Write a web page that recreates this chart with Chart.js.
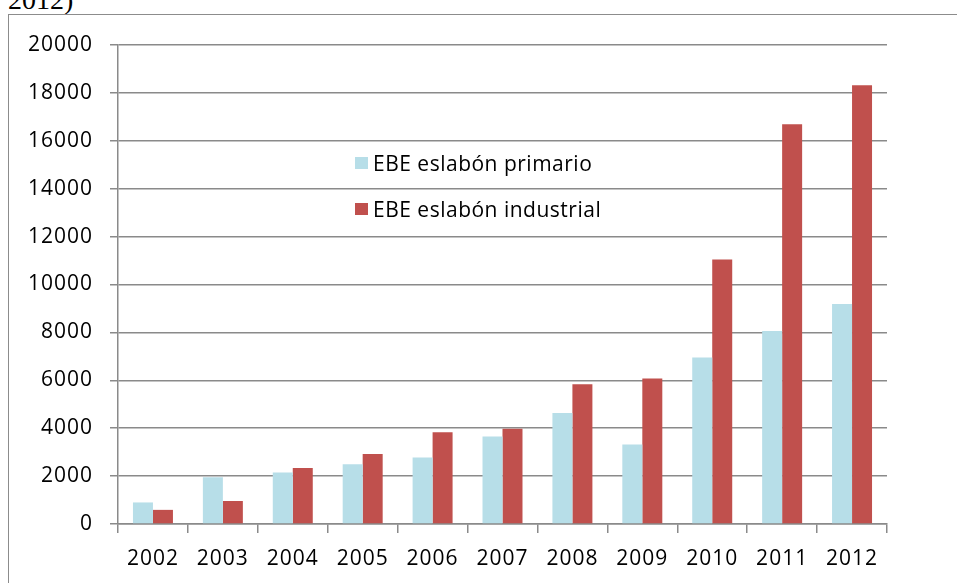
<!DOCTYPE html>
<html>
<head>
<meta charset="utf-8">
<script src="https://cdn.jsdelivr.net/npm/chart.js@4"></script>
<style>
  body { margin: 0; background: #fff; }
  #wrap { position: relative; width: 957px; height: 583px; overflow: hidden; }
  #titulo { position: absolute; left: 8px; top: -16px; font: 28px "Liberation Serif", serif; color: #000; }
  #marco { position: absolute; left: 8px; top: 14px; width: 1000px; height: 700px;
           border-left: 1.5px solid #8c8c8c; border-top: 1.5px solid #8c8c8c; }
  #leyenda { position: absolute; left: 355px; top: 148px; font: 21px "Open Sans", sans-serif; letter-spacing: 0.5px; color: #000; }
  .item { display: flex; align-items: center; height: 30px; margin-bottom: 16px; }
  .caja { width: 13px; height: 12px; margin-right: 5px; }
  canvas { position: absolute; left: 0; top: 0; }
</style>
</head>
<body>
<div id="wrap">
  <div id="titulo">2012)</div>
  <div id="marco"></div>
  <canvas id="grafico" width="957" height="583"></canvas>
  <div id="leyenda"></div>
</div>
<script>
const anios = ["2002", "2003", "2004", "2005", "2006", "2007", "2008", "2009", "2010", "2011", "2012"];
const ebePrimario = [900, 1950, 2150, 2500, 2780, 3650, 4630, 3320, 6950, 8060, 9190];
const ebeIndustrial = [590, 960, 2340, 2920, 3830, 3980, 5840, 6070, 11040, 16690, 18320];
const etiquetas = ["EBE eslabón primario", "EBE eslabón industrial"];
const colores = ["#B7DEE8", "#C0504D"];

Chart.defaults.font.family = "'Open Sans', sans-serif";
Chart.defaults.font.size = 21;
Chart.defaults.color = "#000";

// un poco de espacio entre letras, como en el original
const espaciado = {
  id: 'espaciado',
  beforeDraw: (chart) => { chart.ctx.letterSpacing = '1px'; }
};

const grafico = new Chart(document.getElementById("grafico"), {
  type: 'bar',
  data: {
    labels: anios,
    datasets: [{
      label: etiquetas[0],
      data: ebePrimario,
      backgroundColor: colores[0],
      barPercentage: 1,
      categoryPercentage: 0.572
    }, {
      label: etiquetas[1],
      data: ebeIndustrial,
      backgroundColor: colores[1],
      barPercentage: 1,
      categoryPercentage: 0.572
    }]
  },
  options: {
    responsive: false,
    animation: false,
    layout: { padding: { top: 45, right: 70, bottom: 0, left: 0 } },
    plugins: {
      legend: { display: false },
      tooltip: { enabled: false }
    },
    scales: {
      x: {
        grid: { drawOnChartArea: false, drawTicks: true, tickLength: 9, color: "#8a8a8a", lineWidth: 1.5 },
        border: { color: "#8a8a8a", width: 1.5 },
        ticks: { padding: 13, maxRotation: 0 },
        afterFit: (escala) => { escala.height = 59; }
      },
      y: {
        min: 0,
        max: 20000,
        grid: { tickLength: 8, color: "#8a8a8a", lineWidth: 1.5 },
        border: { color: "#8a8a8a", width: 1.5 },
        ticks: { stepSize: 2000, padding: 17, callback: (v) => String(v) },
        afterFit: (escala) => { escala.width = 118; }
      }
    }
  },
  plugins: [espaciado]
});

// leyenda dentro del área del gráfico
const leyenda = document.getElementById("leyenda");
grafico.data.datasets.forEach((ds) => {
  const item = document.createElement("div");
  item.className = "item";
  const caja = document.createElement("span");
  caja.className = "caja";
  caja.style.background = ds.backgroundColor;
  const texto = document.createElement("span");
  texto.textContent = ds.label;
  item.appendChild(caja);
  item.appendChild(texto);
  leyenda.appendChild(item);
});
</script>
</body>
</html>
